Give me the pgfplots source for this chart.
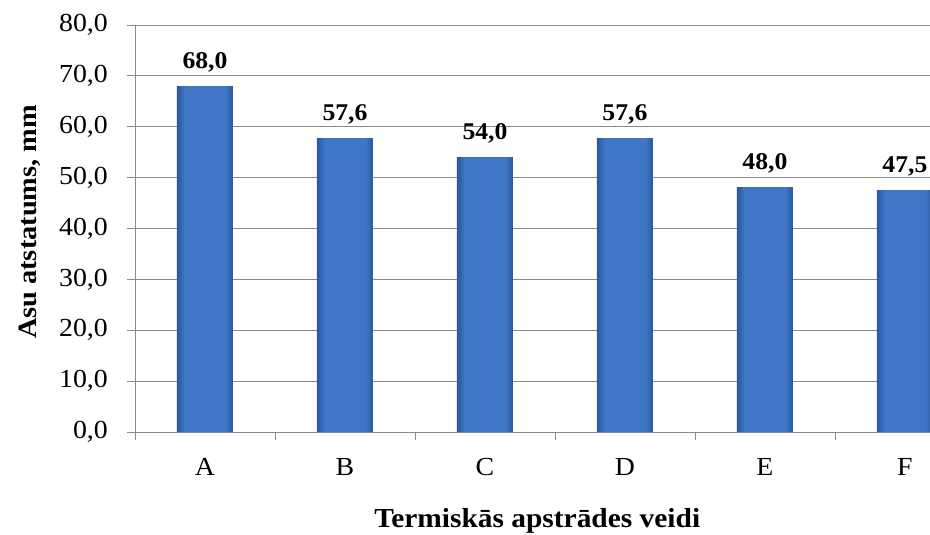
\documentclass[border=0pt]{standalone}
\usepackage{fontspec}
\setmainfont{Liberation Serif}[FakeStretch=1.07]
\usepackage{pgfplots}
\pgfplotsset{compat=1.18}
\definecolor{barmid}{HTML}{3F76C6}
\definecolor{baredge}{HTML}{2B579E}
\definecolor{gridc}{HTML}{8A8A8A}
\pgfdeclarehorizontalshading{barshade}{100bp}{color(0bp)=(baredge); color(25bp)=(baredge); color(32bp)=(barmid); color(68bp)=(barmid); color(75bp)=(baredge); color(100bp)=(baredge)}
\pgfplotsset{mybar/.style={ybar, bar width=56pt, bar shift=0pt, draw=none, shading=barshade, mark=none}}
\begin{document}
\begin{tikzpicture}[x=1pt,y=1pt]
\path[use as bounding box] (0,0) rectangle (930,535);
\begin{axis}[
  at={(135pt,103pt)}, anchor=south west,
  scale only axis, width=795pt, height=407pt,
  xmin=-0.5, xmax=5.179, ymin=0, ymax=80,
  axis x line*=bottom, axis y line*=left,
  axis line style={draw=gridc, line width=0.8pt},
  xtick={-0.5,0.5,1.5,2.5,3.5,4.5},
  xticklabels={},
  extra x ticks={0,1,2,3,4,5},
  extra x tick labels={A,B,C,D,E,F},
  extra x tick style={major tick length=0pt, grid=none},
  ytick={0,10,...,80},
  ymajorgrids,
  major grid style={draw=gridc, line width=0.8pt},
  tick align=outside,
  major tick length=8pt,
  tick style={draw=gridc, line width=0.8pt},
  /pgf/number format/assume math mode=true,
  /pgf/number format/.cd, fixed, fixed zerofill, precision=1, use comma,
  /pgfplots/.cd,
  yticklabel style={font=\fontsize{26}{26}\selectfont, anchor=east, inner sep=0pt, xshift=-19pt},
  xticklabel style={font=\fontsize{26}{26}\selectfont, anchor=base, inner sep=0pt, yshift=-44pt},
  xlabel={Termiskās apstrādes veidi},
  xlabel style={font=\fontsize{27.5}{27.5}\bfseries\selectfont, at={(axis description cs:0.506,0)}, anchor=base, inner sep=0pt, yshift=-96pt},
  ylabel={Asu atstatums, mm},
  ylabel style={font=\fontsize{26.5}{26.5}\bfseries\selectfont, at={(axis description cs:-0.1233,0.516)}, anchor=base, inner sep=0pt},
  nodes near coords,
  every node near coord/.append style={font=\fontsize{24}{24}\bfseries\selectfont, text=black, anchor=base, inner sep=0pt, yshift=18pt},
]
\addplot[mybar] coordinates {(0,68.0)};
\addplot[mybar] coordinates {(1,57.6)};
\addplot[mybar] coordinates {(2,54.0)};
\addplot[mybar] coordinates {(3,57.6)};
\addplot[mybar] coordinates {(4,48.0)};
\addplot[mybar] coordinates {(5,47.5)};
\end{axis}
\end{tikzpicture}
\end{document}
